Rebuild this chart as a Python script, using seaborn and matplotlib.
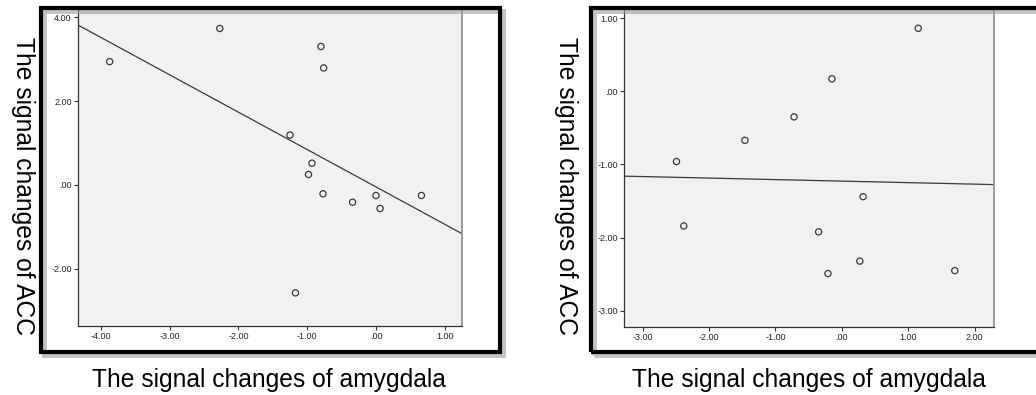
import numpy as np
import pandas as pd
import matplotlib
matplotlib.use("Agg")
import matplotlib.pyplot as plt
from matplotlib.patches import Rectangle
from matplotlib.ticker import FuncFormatter, MultipleLocator
import seaborn as sns

# ---------------------------------------------------------------------------
# Data
# ---------------------------------------------------------------------------
amyg_left = [-3.87, -2.27, -0.80, -0.76, -1.25, -0.93, -0.98, -0.77, -0.34, 0.00, 0.06, 0.66, -1.17]
acc_left = [2.94, 3.73, 3.30, 2.79, 1.19, 0.52, 0.25, -0.21, -0.41, -0.25, -0.56, -0.25, -2.57]

amyg_right = [-2.49, -2.38, -1.46, -0.72, -0.15, 1.15, 0.32, -0.35, -0.21, 0.27, 1.70]
acc_right = [-0.96, -1.84, -0.67, -0.35, 0.17, 0.86, -1.44, -1.92, -2.49, -2.32, -2.45]

xlabel = "The signal changes of amygdala"
ylabel = "The signal changes of ACC"

W, H = 1036, 395
sns.set_theme(style="white")
plt.rcParams["font.family"] = ["Liberation Sans", "DejaVu Sans"]

fig = plt.figure(figsize=(W / 100, H / 100), dpi=100, facecolor="white")


def fx(px):
    return px / W


def fy(py):
    return 1 - py / H


def fmt(v, pos):
    s = f"{v:.2f}"
    if s in ("0.00", "-0.00"):
        s = ".00"
    return s


def panel(rect, x, y, xlim, ylim):
    ax = fig.add_axes(rect)
    ax.set_facecolor("#f0f1f0")
    ax.set_xlim(*xlim)
    ax.set_ylim(*ylim)
    df = pd.DataFrame({"x": x, "y": y})
    # regression line spans the full axis range (truncate=False)
    sns.regplot(data=df, x="x", y="y", ax=ax, ci=None, truncate=False,
                scatter_kws={"color": "#3a3a3a", "facecolors": "none", "s": 20,
                             "linewidths": 0.9, "alpha": 1},
                line_kws={"color": "#3a3a3a", "lw": 0.9})
    ax.set_xlim(*xlim)
    ax.set_ylim(*ylim)
    ax.set_xlabel("")
    ax.set_ylabel("")
    for side in ["left", "bottom"]:
        ax.spines[side].set_color("#333333")
        ax.spines[side].set_linewidth(0.9)
    ax.spines["right"].set_color("#8a8a8a")
    ax.spines["right"].set_linewidth(1.2)
    ax.spines["top"].set_visible(False)
    ax.xaxis.set_major_locator(MultipleLocator(1))
    ax.yaxis.set_major_locator(MultipleLocator(1 if ylim[1] < 2 else 2))
    ax.xaxis.set_major_formatter(FuncFormatter(fmt))
    ax.yaxis.set_major_formatter(FuncFormatter(fmt))
    ax.tick_params(axis="both", direction="out", length=3, width=0.8, color="#333333",
                   labelsize=6.5, labelcolor="#222222", pad=1.5,
                   bottom=True, left=True)
    return ax


# Left panel
panel([fx(78), fy(326), fx(462 - 78), (326 - 10) / H],
      amyg_left, acc_left, (-4.33, 1.25), (-3.36, 4.17))
# Right panel
panel([fx(624), fy(327), fx(994 - 624), (327 - 10) / H],
      amyg_right, acc_right, (-3.28, 2.29), (-3.22, 1.11))

# Thick black frames with a soft drop shadow
for x0, x1 in [(41, 500), (591, 1050)]:
    shadow = Rectangle((fx(x0 + 3), fy(352 + 3)), fx(x1 - x0), (352 - 8) / H,
                       transform=fig.transFigure, fill=False, lw=3.5,
                       edgecolor="#9a9a9a", alpha=0.6, zorder=4)
    fig.add_artist(shadow)
    frame = Rectangle((fx(x0), fy(352)), fx(x1 - x0), (352 - 8) / H,
                      transform=fig.transFigure, fill=False, lw=3,
                      edgecolor="black", zorder=5)
    fig.add_artist(frame)

# Axis titles
txt = dict(ha="center", va="center", fontsize=17.7, color="black")
fig.text(fx(23), fy(186), ylabel, rotation=270, **txt)
fig.text(fx(566), fy(186), ylabel, rotation=270, **txt)
fig.text(fx(269), fy(380), xlabel, **txt)
fig.text(fx(809), fy(380), xlabel, **txt)

fig.savefig("out.png", dpi=100, facecolor="white")
